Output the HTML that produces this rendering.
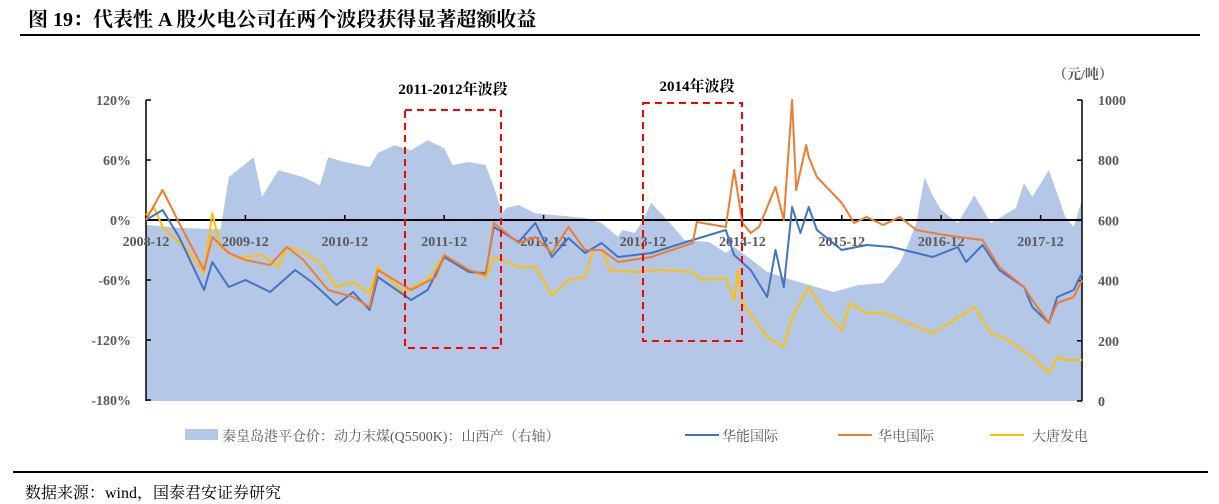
<!DOCTYPE html>
<html><head><meta charset="utf-8"><style>
body{margin:0;background:#fff;width:1219px;height:504px;overflow:hidden;position:relative;font-family:"Liberation Serif","Noto Serif CJK SC",serif}
.t{position:absolute;white-space:nowrap}
</style></head><body>
<div class="t" style="left:28px;top:3px;font-size:20px;font-weight:bold;color:#000">图 19：代表性 A 股火电公司在两个波段获得显著超额收益</div>
<div style="position:absolute;left:20px;top:34px;width:1180px;height:2px;background:#000"></div>
<svg id="c" width="1219" height="504" style="position:absolute;left:0;top:0"></svg>
<div style="position:absolute;left:13px;top:471px;width:1195px;height:2px;background:#000"></div>
<div class="t" style="left:25px;top:480px;font-size:16px;color:#000">数据来源：wind，国泰君安证券研究</div>
<script>
const xLabels=["2008-12","2009-12","2010-12","2011-12","2012-12","2013-12","2014-12","2015-12","2016-12","2017-12"];
const leftTicks=[120,60,0,-60,-120,-180];
const rightTicks=[1000,800,600,400,200,0];
const coalMonths=[0,4,9,10,13,14,16,19,21,22,24,27,28,30,32,34,36,37,39,41,42,43,43.5,45,47,53,55,57,57.5,59,60,61,64,65,68,70,71,72,75,78,83,86,89,91,92,93,94,95,96,98,100,102,105,106,107,109,111,112,113];
const coalValues=[585,575,570,744,810,678,767,744,717,810,794,777,824,850,833,866,840,784,794,784,711,624,641,651,624,608,591,545,568,558,600,658,568,535,528,492,512,492,429,402,362,385,392,458,520,591,744,680,635,591,684,591,641,724,678,767,611,578,668];
const huanengMonths=[0,2,4,7,8,10,12,15,18,20,23,25,27,28,32,34,36,39,41,42,45,47,49,51,53,55,57,61,66,70,71,73,75,76,77,78,79,80,81,84,87,90,93,95,98,99,101,103,106,107,109,110,112,113];
const huanengValues=[0,10,-17,-70,-42,-67,-60,-72,-50,-62,-85,-72,-90,-57,-80,-70,-37,-52,-53,-7,-22,-3,-37,-18,-33,-23,-37,-33,-20,-10,-35,-50,-77,-30,-67,13,-13,13,-10,-30,-25,-27,-33,-37,-27,-42,-25,-50,-67,-87,-103,-77,-70,-53];
const huadianMonths=[0,2,4,7,8,10,12,15,17,19,22,25,27,28,32,35,36,39,41,42,45,47,49,51,53,55,57,61,66,66.5,70,71,72,73,74,76,77,78,78.5,79.7,80,81,84,85.5,87,89,91,93,95,98,101,103,106,107,109,110,112,113];
const huadianValues=[0,30,-3,-50,-17,-33,-40,-45,-27,-40,-70,-77,-87,-50,-70,-57,-35,-50,-55,-3,-23,-17,-33,-7,-30,-30,-42,-37,-23,-2,-7,50,-3,-13,-7,33,0,120,30,75,63,43,17,-3,3,-5,3,-10,-13,-17,-20,-47,-67,-80,-103,-83,-77,-60];
const datangMonths=[0,1,2,5,7,8,9,11,14,16,17,19,21,23,25,27,28,31,34,36,39,41,42,45,47,49,51,53,54,55,56,59,62,66,67,70,71,71.5,72,75,77,78,80,82,84,85,87,89,92,95,97,100,102,104,107,109,110,111,113];
const datangValues=[5,12,-7,-30,-53,7,-27,-38,-35,-47,-27,-32,-43,-67,-62,-73,-47,-72,-60,-35,-50,-57,-37,-47,-47,-75,-60,-57,-30,-30,-50,-52,-50,-52,-60,-58,-80,-50,-83,-117,-127,-97,-67,-93,-110,-83,-93,-93,-103,-113,-103,-87,-113,-120,-137,-153,-137,-140,-140];

const L=146,R=1082,T=100,B=401,PX=(1082-146)/113;
const xs=m=>L+m*PX;
const yl=v=>220-(v)*(60/60);
const yr=v=>B-v*(B-T)/1000;
const svg=document.getElementById('c');
const NS="http://www.w3.org/2000/svg";
function mk(t,a){const e=document.createElementNS(NS,t);for(const k in a)e.setAttribute(k,a[k]);svg.appendChild(e);return e;}
// area
let d=`M${xs(coalMonths[0])},${B}`;
coalMonths.forEach((m,i)=>{d+=` L${xs(m).toFixed(1)},${yr(coalValues[i]).toFixed(1)}`});
d+=` L${xs(coalMonths[coalMonths.length-1])},${B} Z`;
const area=mk('path',{d:d,fill:'#b4c7e7'});


// axes
const la=mk('line',{x1:L,y1:T,x2:L,y2:B,stroke:'#000','stroke-width':1.5});


const ra=mk('line',{x1:R,y1:T,x2:R,y2:B,stroke:'#000','stroke-width':1.5});


leftTicks.forEach(v=>{
 mk('line',{x1:L,y1:yl(v),x2:L+5,y2:yl(v),stroke:'#000','stroke-width':1.5});
 const t=mk('text',{x:131,y:yl(v)+5,'text-anchor':'end','font-size':14,'font-weight':'bold',fill:'#595959','font-family':'Liberation Serif,serif'});
 t.textContent=v+'%';
 
 
});
rightTicks.forEach(v=>{
 mk('line',{x1:R-5,y1:yr(v),x2:R,y2:yr(v),stroke:'#000','stroke-width':1.5});
 const t=mk('text',{x:1098,y:yr(v)+5,'font-size':14,'font-weight':'bold',fill:'#595959','font-family':'Liberation Serif,serif'});
 t.textContent=v;
 
 
});
const u=mk('text',{x:1053,y:79,'font-size':14,'font-weight':'bold',fill:'#595959','font-family':'Liberation Serif,Noto Serif CJK SC,serif'});
u.textContent='（元/吨）';


// zero line
const z=mk('line',{x1:L,y1:yl(0),x2:R,y2:yl(0),stroke:'#000','stroke-width':2});


xLabels.forEach((s,i)=>{
 const x=xs(i*12);
 mk('line',{x1:x,y1:yl(0)-5,x2:x,y2:yl(0),stroke:'#000','stroke-width':1.5});
 const t=mk('text',{x:x,y:246,'text-anchor':'middle','font-size':14,'font-weight':'bold',fill:'#595959','font-family':'Liberation Serif,serif'});
 t.textContent=s;
 
 
});
function line(ms,vs,col,name){
 const p=ms.map((m,i)=>xs(m).toFixed(1)+','+yl(vs[i]).toFixed(1)).join(' ');
 const e=mk('polyline',{points:p,fill:'none',stroke:col,'stroke-width':2,'stroke-linejoin':'round'});
 
 
}
line(datangMonths,datangValues,'#ffc000','datang-line');
line(huanengMonths,huanengValues,'#4472c4','huaneng-line');
line(huadianMonths,huadianValues,'#ed7d31','huadian-line');
// boxes
const b1=mk('rect',{x:405,y:110,width:96,height:238,fill:'none',stroke:'#ff0000','stroke-width':2,'stroke-dasharray':'7,5'});


const b2=mk('rect',{x:643,y:103,width:99,height:238,fill:'none',stroke:'#ff0000','stroke-width':2,'stroke-dasharray':'7,5'});


const a1=mk('text',{x:453,y:94,'text-anchor':'middle','font-size':15,'font-weight':'bold',fill:'#000','font-family':'Liberation Serif,Noto Serif CJK SC,serif'});
a1.textContent='2011-2012年波段';


const a2=mk('text',{x:697,y:91,'text-anchor':'middle','font-size':15,'font-weight':'bold',fill:'#000','font-family':'Liberation Serif,Noto Serif CJK SC,serif'});
a2.textContent='2014年波段';


// legend
const lg=[['rect',185,'#b4c7e7','秦皇岛港平仓价：动力末煤(Q5500K)：山西产（右轴）',222,'legend-coal'],
['line',685,'#4472c4','华能国际',722,'legend-huaneng'],
['line',838,'#ed7d31','华电国际',878,'legend-huadian'],
['line',990,'#ffc000','大唐发电',1032,'legend-datang']];
lg.forEach(g=>{
 if(g[0]==='rect'){const r=mk('rect',{x:g[1],y:429,width:33,height:11,fill:g[2]});}
 else{const r=mk('line',{x1:g[1],y1:435,x2:g[1]+34,y2:435,stroke:g[2],'stroke-width':2});}
 const t=mk('text',{x:g[4],y:441,'font-size':14,fill:'#595959','font-family':'Liberation Serif,Noto Serif CJK SC,serif'});
 t.textContent=g[3];
 
 
});
</script>
</body></html>
